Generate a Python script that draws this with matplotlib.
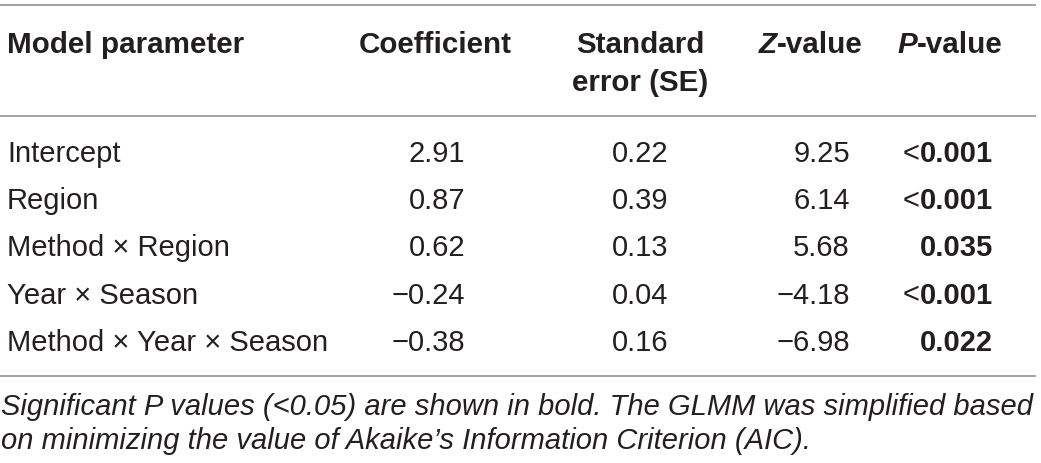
import matplotlib.pyplot as plt

# table content
params = ["Intercept", "Region", "Method \u00d7 Region", "Year \u00d7 Season",
          "Method \u00d7 Year \u00d7 Season"]
coef = ["2.91", "0.87", "0.62", "\u22120.24", "\u22120.38"]
se = ["0.22", "0.39", "0.13", "0.04", "0.16"]
zval = ["9.25", "6.14", "5.68", "\u22124.18", "\u22126.98"]
pval = ["0.001", "0.001", "0.035", "0.001", "0.022"]
p_less = [True, True, False, True, False]
caption = ["Significant P values (<0.05) are shown in bold. The GLMM was simplified based",
           "on minimizing the value of Akaike\u2019s Information Criterion (AIC)."]

plt.rcParams["font.family"] = ["Liberation Sans", "DejaVu Sans"]
TXT = "#231f20"
LINE = "#a3a3a3"
FS = 21
HFS = 21.3

fig = plt.figure(figsize=(10.41, 4.63), dpi=100)
ax = fig.add_axes([0, 0, 1, 1])
ax.set_xlim(0, 1041)
ax.set_ylim(463, 0)
ax.axis("off")

# rules
for y in (5, 116, 376):
    ax.plot([0, 1036], [y, y], color=LINE, lw=1.4, solid_capstyle="butt")

# header
hkw = dict(fontsize=HFS, fontweight="bold", color=TXT, va="baseline")
ax.text(7, 53, "Model parameter", ha="left", **hkw)
ax.text(512, 53, "Coefficient", ha="right", **hkw)
ax.text(640, 53, "Standard", ha="center", **hkw)
ax.text(640, 91, "error (SE)", ha="center", **hkw)
t = ax.text(863, 53, "-value", ha="right", **hkw)
ax.annotate("Z", xy=(0, 0), xycoords=t, ha="right", va="bottom",
            fontsize=HFS, fontweight="bold", style="italic", color=TXT)
t = ax.text(1003, 53, "-value", ha="right", **hkw)
ax.annotate("P", xy=(0, 0), xycoords=t, ha="right", va="bottom",
            fontsize=HFS, fontweight="bold", style="italic", color=TXT)

# body rows
bkw = dict(fontsize=FS, color=TXT, va="baseline")
y0, dy = 162, 47.2
for i in range(len(params)):
    y = y0 + i * dy
    ax.text(7, y, params[i], ha="left", **bkw)
    ax.text(465, y, coef[i], ha="right", **bkw)
    ax.text(640, y, se[i], ha="center", **bkw)
    ax.text(850, y, zval[i], ha="right", **bkw)
    t = ax.text(993, y, pval[i], ha="right", fontweight="bold", **bkw)
    if p_less[i]:
        ax.annotate("<", xy=(0, 0), xycoords=t, ha="right", va="bottom",
                    fontsize=FS, color=TXT)

# caption
for j, line in enumerate(caption):
    ax.text(1, 415 + j * 34, line, ha="left", va="baseline", fontsize=21,
            style="italic", color=TXT)

fig.savefig("out.png", dpi=100, facecolor="white")
